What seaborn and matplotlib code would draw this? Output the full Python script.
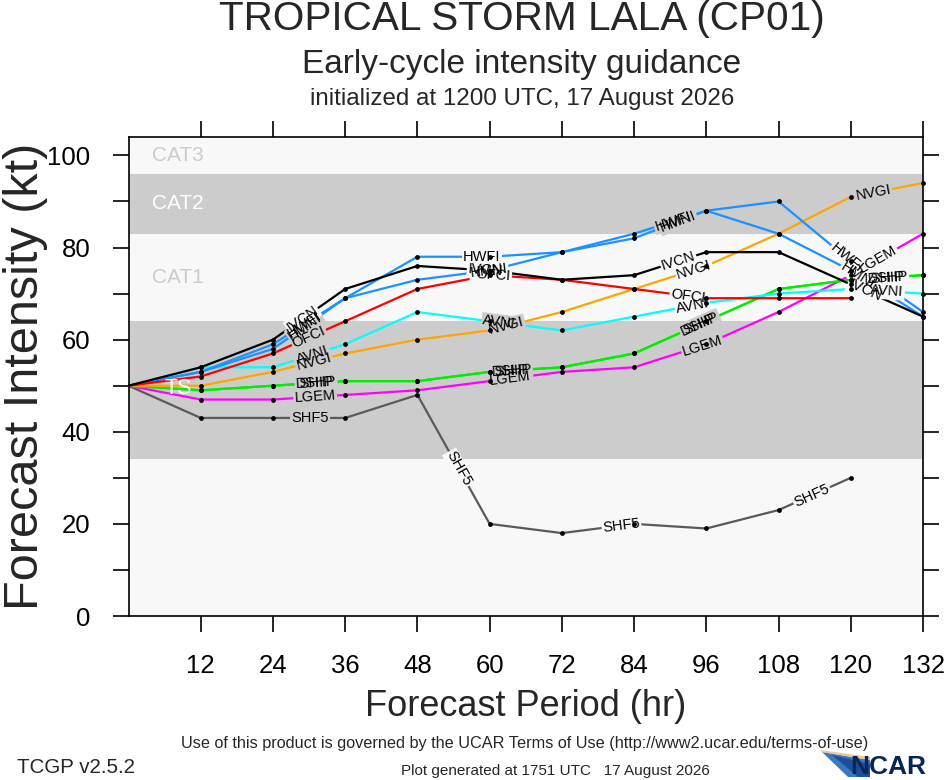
import numpy as np
import pandas as pd
import matplotlib
matplotlib.use("Agg")
import matplotlib.pyplot as plt
import seaborn as sns
from matplotlib.patches import Polygon

# --- forecast data (kt) ---
hours = [0, 12, 24, 36, 48, 60, 72, 84, 96, 108, 120, 132]
nan = np.nan
SHF5 = [50, 43, 43, 43, 48, 20, 18, 20, 19, 23, 30, nan]
LGEM = [50, 47, 47, 48, 49, 51, 53, 54, 59, 66, 74, 83]
SHIP = [50, 49, 50, 51, 51, 53, 54, 57, 64, 71, 73, 74]
DSHP = [50, 49, 50, 51, 51, 53, 54, 57, 64, 71, 73, 74]
NVGI = [50, 50, 53, 57, 60, 62, 66, 71, 76, 83, 91, 94]
AVNI = [50, 54, 54, 59, 66, 64, 62, 65, 68, 70, 71, 70]
HMNI = [50, 53, 58, 69, 73, 75, 79, 82, 88, 83, 75, 65]
HWFI = [50, 53, 59, 69, 78, 78, 79, 83, 88, 90, 77, 66]
OFCI = [50, 52, 57, 64, 71, 74, 73, 71, 69, 69, 69, nan]
IVCN = [50, 54, 60, 71, 76, 75, 73, 74, 79, 79, 72, 65]

models = ["SHF5", "LGEM", "SHIP", "DSHP", "NVGI", "AVNI", "HMNI", "HWFI", "OFCI", "IVCN"]
series = [SHF5, LGEM, SHIP, DSHP, NVGI, AVNI, HMNI, HWFI, OFCI, IVCN]
model_colors = {
    "SHF5": "#5a5a5a", "LGEM": "#ff00ff", "SHIP": "#00ee00", "DSHP": "#00ee00",
    "NVGI": "#ffa500", "AVNI": "#00ffff", "HMNI": "#1e90ff", "HWFI": "#1e90ff",
    "OFCI": "#ff0000", "IVCN": "#000000",
}

# intensity category bands (kt)
band_lo = [0, 34, 64, 83, 96]
band_hi = [34, 64, 83, 96, 104]
band_names = ["", "TS", "CAT1", "CAT2", "CAT3"]

LIGHT, GRAY = "#f8f8f8", "#cccccc"
band_fill = [LIGHT, GRAY, LIGHT, GRAY, LIGHT]
band_text = [LIGHT, "white", GRAY, "white", GRAY]

rows = []
for name, vals in zip(models, series):
    for h, v in zip(hours, vals):
        if not np.isnan(v):
            rows.append({"model": name, "hour": h, "kt": v})
df = pd.DataFrame(rows)

sns.set_theme(style="white")
plt.rcParams["font.family"] = ["Liberation Sans", "DejaVu Sans"]

W, H = 946, 780
fig = plt.figure(figsize=(W / 100, H / 100), dpi=100)
ax = fig.add_axes([128.5 / W, 1 - 616 / H, (923 - 128.5) / W, (616 - 137) / H])
ax.set_xlim(0, 132)
ax.set_ylim(0, 104)

for lo, hi, fc, name, tc in zip(band_lo, band_hi, band_fill, band_names, band_text):
    ax.axhspan(lo, hi, color=fc, lw=0, zorder=0)
    if name == "TS":
        ax.text(6.0, (lo + hi) / 2 + 0.3, name, color=tc, fontsize=15.5,
                ha="left", va="center", zorder=5)
    elif name:
        ax.text(3.9, (lo + hi) / 2, name, color=tc, fontsize=15,
                ha="left", va="center", zorder=5)

sns.lineplot(data=df, x="hour", y="kt", hue="model", hue_order=models,
             palette=model_colors, estimator=None, sort=False, lw=1.6,
             legend=False, ax=ax, zorder=3)
for ln in ax.lines:
    ln.set_clip_on(False)
    ln.set_solid_capstyle("butt")

dots = df[df["hour"] > 0]
sns.scatterplot(data=dots, x="hour", y="kt", color="black", s=12, linewidth=0,
                ax=ax, zorder=6, clip_on=False)


def band_color(y):
    for lo, hi, fc in zip(band_lo, band_hi, band_fill):
        if lo <= y < hi:
            return fc
    return LIGHT


# inline line labels, spaced along the path like the NCL original
labels = []
first, step, tail = 188, 196, 30
for name, vals in zip(models, series):
    xs = np.array([h for h, v in zip(hours, vals) if not np.isnan(v)], float)
    ys = np.array([v for v in vals if not np.isnan(v)], float)
    pts = ax.transData.transform(np.column_stack([xs, ys]))
    seg = np.diff(pts, axis=0)
    seglen = np.hypot(seg[:, 0], seg[:, 1])
    cum = np.concatenate([[0], np.cumsum(seglen)])
    s = first
    while s < cum[-1] - tail:
        i = min(np.searchsorted(cum, s) - 1, len(seg) - 1)
        f = (s - cum[i]) / seglen[i]
        p = pts[i] + f * seg[i]
        ang = np.degrees(np.arctan2(seg[i, 1], seg[i, 0]))
        if ang > 90:
            ang -= 180
        if ang < -90:
            ang += 180
        xd, yd = ax.transData.inverted().transform(p)
        labels.append((xd, yd, name, ang))
        s += step

for xd, yd, name, ang in labels:
    ax.text(xd, yd, name, rotation=ang, rotation_mode="anchor", ha="center",
            va="center", fontsize=10.5, color=(0, 0, 0, 0), zorder=4,
            bbox=dict(boxstyle="square,pad=0.08", fc=band_color(yd), ec="none"))
for xd, yd, name, ang in labels:
    ax.text(xd, yd, name, rotation=ang, rotation_mode="anchor", ha="center",
            va="center", fontsize=10.5, color="black", zorder=7)

ax.set_xticks(hours[1:])
ax.set_xticklabels([str(h) for h in hours[1:]])
yt = list(range(0, 101, 10))
ax.set_yticks(yt)
ax.set_yticklabels([str(v) if v % 20 == 0 else "" for v in yt])
ax.tick_params(direction="out", length=11.5, width=1.2, pad=16, labelsize=18.5,
               colors="black", top=True, right=True, bottom=True, left=True,
               labeltop=False, labelright=False)
for sp in ax.spines.values():
    sp.set_visible(True)
    sp.set_color("black")
    sp.set_linewidth(1.2)
    sp.set_zorder(8)

ax.set_xlabel("Forecast Period (hr)", fontsize=26, va="center")
ax.xaxis.set_label_coords(0.5, (616 - 706) / 479)
ax.set_ylabel("Forecast Intensity (kt)", fontsize=35, va="center")
ax.yaxis.set_label_coords((26 - 128.5) / 794.5, 0.5)

cx = 522 / W
fig.text(cx, 1 - 30 / H, "TROPICAL STORM LALA (CP01)", fontsize=29.2,
         ha="center", va="baseline")
fig.text(cx, 1 - 73 / H, "Early-cycle intensity guidance", fontsize=24,
         ha="center", va="baseline")
fig.text(cx, 1 - 105 / H, "initialized at 1200 UTC, 17 August 2026",
         fontsize=17.4, ha="center", va="baseline")

fig.text(525 / W, 1 - 748 / H,
         "Use of this product is governed by the UCAR Terms of Use (http://www2.ucar.edu/terms-of-use)",
         fontsize=11.7, ha="center", va="baseline")
fig.text(17 / W, 1 - 773 / H, "TCGP v2.5.2", fontsize=14.8, ha="left", va="baseline")
fig.text(555 / W, 1 - 775 / H, "Plot generated at 1751 UTC   17 August 2026",
         fontsize=11, ha="center", va="baseline")

# NCAR logo
def px(x, y):
    return (x / W, 1 - y / H)

fig.patches.append(Polygon([px(822, 752), px(870, 760), px(870, 777), px(848, 777)],
                           closed=True, transform=fig.transFigure, fc="#3a78c0", ec="none"))
fig.patches.append(Polygon([px(832, 755), px(870, 764), px(870, 777), px(858, 777)],
                           closed=True, transform=fig.transFigure, fc="#1c4f9a", ec="none"))
fig.patches.append(Polygon([px(820, 750), px(870, 757), px(870, 760), px(822, 752)],
                           closed=True, transform=fig.transFigure, fc="#f2c49a", ec="none"))
fig.text(850 / W, 1 - 774 / H, "NCAR", fontsize=19, fontweight="bold",
         color="#0b2458", ha="left", va="baseline")

fig.savefig("out.png", dpi=100)
